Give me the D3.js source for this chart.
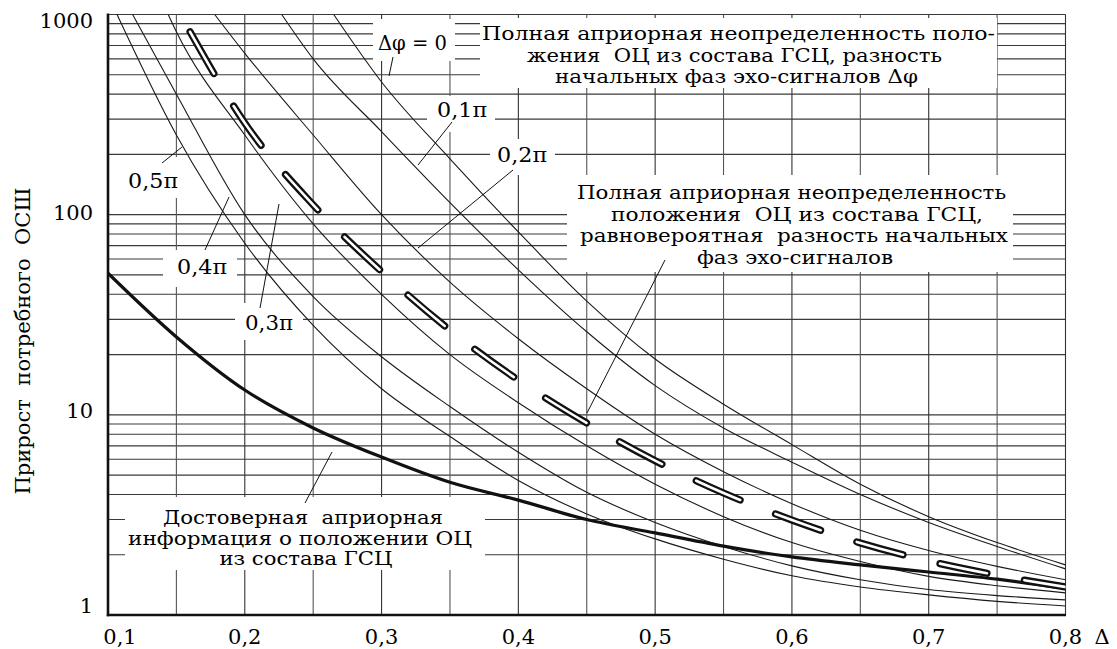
<!DOCTYPE html>
<html>
<head>
<meta charset="utf-8">
<script src="https://cdn.jsdelivr.net/npm/d3@7"></script>
<style>
  body { margin: 0; background: #fff; }
  svg { display: block; font-family: "DejaVu Serif", serif; }
</style>
</head>
<body>
<script>
// Δ values on the x axis, one tick every 0.1, grid every 0.05
const xTicks = [0.1, 0.2, 0.3, 0.4, 0.5, 0.6, 0.7, 0.8];
const xGrid = d3.range(0.1, 0.8001, 0.05);
const yTicks = [1, 10, 100, 1000];

// thin curves, one per phase difference Δφ  ([Δ, прирост ОСШ])
const phi00 = [[0.265,1000],[0.3,460],[0.35,190],[0.4,82],[0.45,37],[0.5,19],[0.55,11.3],[0.6,7.1],[0.65,4.5],[0.7,3.1],[0.75,2.3],[0.8,1.78]];
const phi01 = [[0.227,1000],[0.25,600],[0.3,260],[0.35,115],[0.4,53],[0.45,26],[0.5,14],[0.55,8.6],[0.6,5.8],[0.65,4.0],[0.7,2.9],[0.75,2.2],[0.8,1.7]];
const phi02 = [[0.178,1000],[0.2,640],[0.25,250],[0.3,100],[0.35,46],[0.4,24],[0.45,13.5],[0.5,8],[0.55,5.2],[0.6,3.6],[0.65,2.65],[0.7,2.1],[0.75,1.75],[0.8,1.5]];
const phi03 = [[0.144,1000],[0.15,820],[0.2,250],[0.25,90],[0.3,40],[0.35,20],[0.4,11.5],[0.45,7],[0.5,4.5],[0.55,3.1],[0.6,2.3],[0.65,1.85],[0.7,1.56],[0.75,1.4],[0.8,1.29]];
const phi04 = [[0.118,1000],[0.15,400],[0.2,100],[0.25,39],[0.3,19.5],[0.35,11],[0.4,6.5],[0.45,4.1],[0.5,2.9],[0.55,2.2],[0.6,1.76],[0.65,1.5],[0.7,1.34],[0.75,1.25],[0.8,1.19]];
const phi05 = [[0.1066,1000],[0.15,250],[0.2,72],[0.25,28],[0.3,13.5],[0.35,7.8],[0.4,4.7],[0.45,3.2],[0.5,2.4],[0.55,1.9],[0.6,1.57],[0.65,1.38],[0.7,1.26],[0.75,1.17],[0.8,1.11]];

// equiprobable phase (hollow dashed) and reliable a priori info (bold)
const equiprob = [[0.16,820],[0.2,287],[0.25,112],[0.3,52],[0.35,26.5],[0.4,14.9],[0.45,9.1],[0.5,5.9],[0.55,4.07],[0.6,2.98],[0.65,2.29],[0.7,1.86],[0.75,1.58],[0.8,1.38]];
const reliable = [[0.1,51],[0.15,24.5],[0.2,13.3],[0.25,8.6],[0.3,6.15],[0.35,4.6],[0.4,3.75],[0.45,3.0],[0.5,2.57],[0.55,2.21],[0.6,1.95],[0.65,1.78],[0.7,1.64],[0.75,1.51],[0.8,1.36]];

const thinCurves = [phi00, phi01, phi02, phi03, phi04, phi05];

const W = 1117, H = 649;
const pLeft = 108, pRight = 1065.5, pTop = 14.5, pBottom = 615;

const svg = d3.select("body").append("svg")
  .attr("width", W)
  .attr("height", H);

const x = d3.scaleLinear().domain([0.1, 0.8]).range([pLeft, pRight]);
const y = d3.scaleLog().domain([1, 1000]).range([pBottom, pTop]);

svg.append("defs").append("clipPath").attr("id", "plot")
  .append("rect")
  .attr("x", pLeft).attr("y", pTop)
  .attr("width", pRight - pLeft).attr("height", pBottom - pTop);

// horizontal grid: every integer of each decade
const hLines = [];
[1, 10, 100].forEach(d => { for (let k = 1; k <= 10; k++) hLines.push(d * k); });
const grid = svg.append("g").attr("stroke", "#3a3a3a").attr("stroke-width", 1.1);
grid.selectAll("line.h")
  .data(Array.from(new Set(hLines)))
  .enter().append("line")
  .attr("class", "h")
  .attr("x1", pLeft).attr("x2", pRight)
  .attr("y1", d => y(d)).attr("y2", d => y(d));
grid.selectAll("line.v")
  .data(xGrid)
  .enter().append("line")
  .attr("class", "v")
  .attr("x1", d => x(d)).attr("x2", d => x(d))
  .attr("y1", pTop).attr("y2", pBottom)
  .attr("stroke", (d, i) => i % 2 ? "#555" : "#333");

// white boxes behind the annotations
const boxes = [
  [480, 18, 517, 70],   // top text
  [373, 19, 82, 42],    // Δφ = 0
  [427, 96, 68, 36],    // 0,1π
  [490, 139, 65, 36],   // 0,2π
  [125, 157, 55, 41],   // 0,5π
  [163, 250, 74, 37],   // 0,4π
  [235, 303, 68, 37],   // 0,3π
  [567, 175, 446, 97],  // equiprobable text
  [125, 497, 360, 73]   // reliable text
];
svg.append("g").selectAll("rect")
  .data(boxes)
  .enter().append("rect")
  .attr("x", d => d[0]).attr("y", d => d[1])
  .attr("width", d => d[2]).attr("height", d => d[3])
  .attr("fill", "#fff");

const line = d3.line()
  .x(d => x(d[0]))
  .y(d => y(d[1]))
  .curve(d3.curveMonotoneX);

const curves = svg.append("g").attr("clip-path", "url(#plot)").attr("fill", "none");

curves.selectAll("path.thin")
  .data(thinCurves)
  .enter().append("path")
  .attr("class", "thin")
  .attr("d", line)
  .attr("stroke", "#1a1a1a")
  .attr("stroke-width", 1.1);

curves.append("path")
  .attr("d", line(reliable))
  .attr("stroke", "#111")
  .attr("stroke-width", 3.2);

// hollow capsule dashes: black stroke with a white core
curves.append("path")
  .attr("d", line(equiprob))
  .attr("stroke", "#111")
  .attr("stroke-width", 7.2)
  .attr("stroke-linecap", "round")
  .attr("stroke-dasharray", "48,38");
curves.append("path")
  .attr("d", line(equiprob))
  .attr("stroke", "#fff")
  .attr("stroke-width", 2.6)
  .attr("stroke-linecap", "round")
  .attr("stroke-dasharray", "48,38");

// axes
svg.append("line")
  .attr("x1", pLeft).attr("x2", pLeft).attr("y1", pTop - 1).attr("y2", pBottom + 1.2)
  .attr("stroke", "#111").attr("stroke-width", 2.6);
svg.append("line")
  .attr("x1", pLeft - 1.2).attr("x2", pRight + 0.5).attr("y1", pBottom).attr("y2", pBottom)
  .attr("stroke", "#111").attr("stroke-width", 2.6);

svg.append("g").selectAll("text")
  .data(xTicks)
  .enter().append("text")
  .attr("x", (d, i) => x(d) + (i === 0 ? 12 : 0)).attr("y", 644)
  .attr("text-anchor", "middle")
  .attr("font-size", 21)
  .text(d => d3.format(".1f")(d).replace(".", ","));
svg.append("text").attr("x", 1102).attr("y", 644)
  .attr("text-anchor", "middle").attr("font-size", 21).text("Δ");

const yShift = { 1: -9, 10: -4, 100: -2, 1000: 6 };
svg.append("g").selectAll("text")
  .data(yTicks)
  .enter().append("text")
  .attr("x", 93).attr("y", d => y(d) + yShift[d] + 7)
  .attr("text-anchor", "end")
  .attr("font-size", 21)
  .text(d => d);

svg.append("text")
  .attr("transform", "translate(30,341) rotate(-90)")
  .attr("text-anchor", "middle")
  .attr("font-size", 20)
  .attr("textLength", 307)
  .attr("lengthAdjust", "spacingAndGlyphs")
  .style("white-space", "pre")
  .text("Прирост  потребного  ОСШ");

// leader lines from labels to curves
const leaders = [
  [393, 57, 389, 76], [452, 122, 418, 165], [513, 170, 418, 248],
  [162, 163, 182, 147], [205, 250, 229, 197], [260, 308, 279, 204],
  [665, 260, 587, 413], [305, 503, 332, 452]
];
svg.append("g").selectAll("line")
  .data(leaders)
  .enter().append("line")
  .attr("x1", d => d[0]).attr("y1", d => d[1])
  .attr("x2", d => d[2]).attr("y2", d => d[3])
  .attr("stroke", "#111").attr("stroke-width", 1);

const labels = [
  ["Δφ = 0", 412.5, 50, 69], ["0,1π", 462, 117, 50], ["0,2π", 522, 162, 50],
  ["0,5π", 153, 188, 50], ["0,4π", 202, 274, 50], ["0,3π", 269, 330, 48]
];
svg.append("g").selectAll("text")
  .data(labels)
  .enter().append("text")
  .attr("x", d => d[1]).attr("y", d => d[2])
  .attr("text-anchor", "middle")
  .attr("font-size", 20)
  .attr("textLength", d => d[3])
  .attr("lengthAdjust", "spacingAndGlyphs")
  .text(d => d[0]);

// multi-line notes; each line is stretched to the width it has in the figure
function block(lines, y0, step) {
  const t = svg.append("text")
    .attr("text-anchor", "middle")
    .attr("font-size", 19)
    .style("white-space", "pre");
  lines.forEach((l, i) => t.append("tspan")
    .attr("x", l[1]).attr("y", y0 + i * step)
    .attr("textLength", l[2])
    .attr("lengthAdjust", "spacingAndGlyphs")
    .text(l[0]));
}
block([["Полная априорная неопределенность поло-", 738.5, 513],
       ["жения  ОЦ из состава ГСЦ, разность", 734.5, 415],
       ["начальных фаз эхо-сигналов Δφ", 736.5, 363]], 40, 21.5);
block([["Полная априорная неопределенность", 791.5, 429],
       ["положения  ОЦ из состава ГСЦ,", 797, 372],
       ["равновероятная  разность начальных", 794, 428],
       ["фаз эхо-сигналов", 795, 196]], 199, 21.7);
block([["Достоверная  априорная", 303, 280],
       ["информация о положении ОЦ", 300, 344],
       ["из состава ГСЦ", 306, 173]], 524, 20.5);
</script>
</body>
</html>
